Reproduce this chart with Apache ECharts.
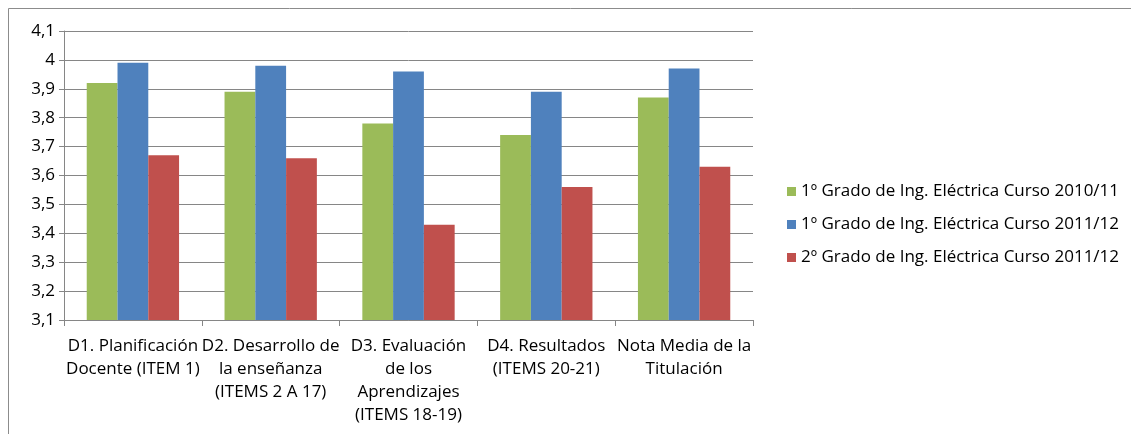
<!DOCTYPE html>
<html>
<head>
<meta charset="utf-8">
<script src="https://cdn.jsdelivr.net/npm/echarts@6/dist/echarts.min.js"></script>
<style>
  html, body { margin: 0; padding: 0; background: #fff; }
  #chart { width: 1131px; height: 434px; }
</style>
</head>
<body>
<div id="chart"></div>
<script>
// categorías (eje X)
const categories = [
  'D1. Planificación\nDocente (ITEM 1)',
  'D2. Desarrollo de\nla enseñanza\n(ITEMS 2 A 17)',
  'D3. Evaluación\nde los\nAprendizajes\n(ITEMS 18-19)',
  'D4. Resultados\n(ITEMS 20-21)',
  'Nota Media de la\nTitulación'
];
const seriesNames = [
  '1º Grado de Ing. Eléctrica Curso 2010/11',
  '1º Grado de Ing. Eléctrica Curso 2011/12',
  '2º Grado de Ing. Eléctrica Curso 2011/12'
];
const grado1_1011 = [3.92, 3.89, 3.78, 3.74, 3.87];
const grado1_1112 = [3.99, 3.98, 3.96, 3.89, 3.97];
const grado2_1112 = [3.67, 3.66, 3.43, 3.56, 3.63];
const colors = ['#9BBB59', '#4F81BD', '#C0504D'];

const font = '"Open Sans", Lato, sans-serif';
const myChart = echarts.init(document.getElementById('chart'));

const values = [grado1_1011, grado1_1112, grado2_1112];

const option = {
  animation: false,
  color: colors,
  // borde del área del gráfico
  graphic: [{
    type: 'rect',
    shape: { x: 8.5, y: 8.5, width: 1140, height: 440 },
    style: { fill: 'none', stroke: '#8c8c8c', lineWidth: 1 },
    silent: true
  }],
  grid: { left: 64, right: 378, top: 31, bottom: 114 },
  legend: {
    orient: 'vertical',
    left: 782,
    top: 178,
    itemWidth: 9,
    itemHeight: 9,
    itemGap: 16,
    icon: 'rect',
    textStyle: { fontFamily: font, fontSize: 17, color: '#000' },
    data: seriesNames
  },
  xAxis: {
    type: 'category',
    data: categories,
    axisLine: { lineStyle: { color: '#868686' } },
    axisTick: { show: true, length: 6, lineStyle: { color: '#868686' } },
    axisLabel: {
      interval: 0,
      margin: 15,
      fontFamily: font,
      fontSize: 17,
      lineHeight: 23,
      color: '#000'
    }
  },
  yAxis: {
    type: 'value',
    min: 3.1,
    max: 4.1,
    interval: 0.1,
    axisLine: { show: true, lineStyle: { color: '#868686' } },
    axisTick: { show: true, length: 5, lineStyle: { color: '#868686' } },
    splitLine: { lineStyle: { color: '#868686' } },
    axisLabel: {
      margin: 9,
      fontFamily: font,
      fontSize: 17,
      color: '#000',
      formatter: v => String(Math.round(v * 10) / 10).replace('.', ',')
    }
  },
  series: seriesNames.map((name, i) => ({
    name: name,
    type: 'bar',
    data: values[i],
    barGap: '0%',
    barCategoryGap: '33%'
  }))
};

myChart.setOption(option);
</script>
</body>
</html>
